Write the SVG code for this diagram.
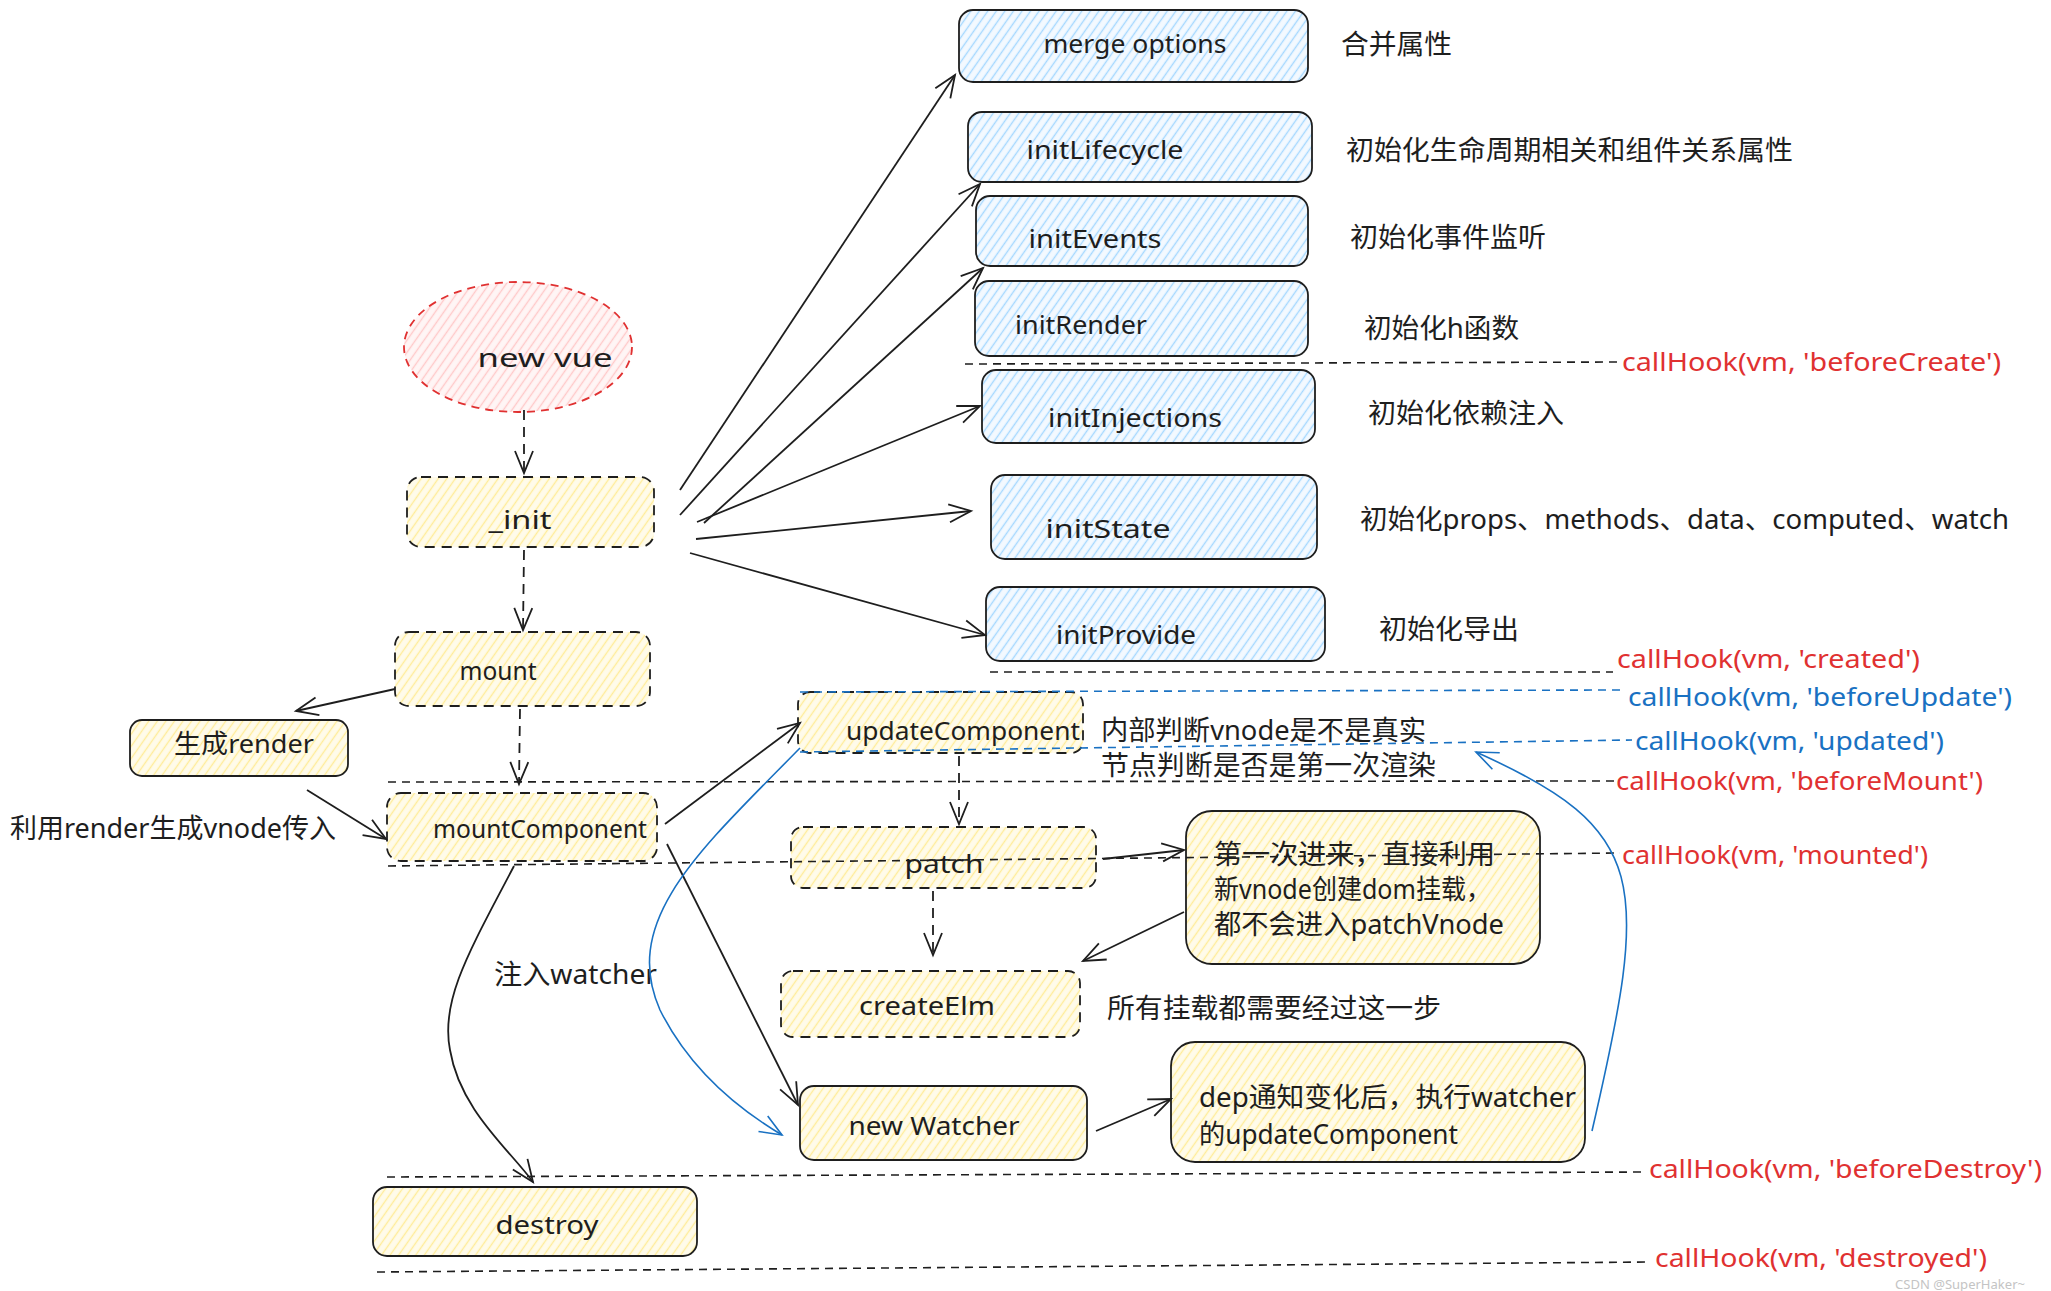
<svg xmlns="http://www.w3.org/2000/svg" width="2051" height="1291" viewBox="0 0 2051 1291">
<style>
text{font-family:"Noto Sans","Noto Sans CJK SC",sans-serif;fill:#1e1e1e;dominant-baseline:central}
.bl{font-size:26px;text-anchor:middle}
.zh{font-size:27px}
.hr{font-size:26px;fill:#e03131}
.hb{font-size:26px;fill:#1971c2}
.box{stroke:#1e1e1e;stroke-width:1.8}
.blue{fill:url(#hBlue)}
.yel{fill:url(#hYel)}
.dsh{stroke-dasharray:10 7}
.con{fill:none;stroke:#1e1e1e;stroke-width:1.8}
.cb{fill:none;stroke:#1971c2;stroke-width:1.6}
.hk{fill:none;stroke:#1e1e1e;stroke-width:1.6;stroke-dasharray:8 6}
.hkb{fill:none;stroke:#1971c2;stroke-width:1.6;stroke-dasharray:8 6}
</style>
<defs>
<pattern id="hBlue" patternUnits="userSpaceOnUse" width="7" height="7" patternTransform="rotate(-55)">
<rect width="7" height="7" fill="#f3f9ff"/><line x1="0" y1="3.5" x2="7" y2="3.5" stroke="#a5d8ff" stroke-width="1.4"/>
</pattern>
<pattern id="hYel" patternUnits="userSpaceOnUse" width="7" height="7" patternTransform="rotate(-55)">
<rect width="7" height="7" fill="#fffbea"/><line x1="0" y1="3.5" x2="7" y2="3.5" stroke="#ffec99" stroke-width="1.4"/>
</pattern>
<pattern id="hRed" patternUnits="userSpaceOnUse" width="7" height="7" patternTransform="rotate(-55)">
<rect width="7" height="7" fill="#fff5f5"/><line x1="0" y1="3.5" x2="7" y2="3.5" stroke="#ffc9c9" stroke-width="1.4"/>
</pattern>
<marker id="ah" markerUnits="userSpaceOnUse" markerWidth="30" markerHeight="30" refX="24" refY="12" orient="auto" viewBox="0 0 30 24">
<path d="M2,3 L24,12 L2,21" fill="none" stroke="#1e1e1e" stroke-width="1.8"/>
</marker>
<marker id="ahb" markerUnits="userSpaceOnUse" markerWidth="30" markerHeight="30" refX="24" refY="12" orient="auto" viewBox="0 0 30 24">
<path d="M2,3 L24,12 L2,21" fill="none" stroke="#1971c2" stroke-width="1.6"/>
</marker>
</defs>
<rect width="2051" height="1291" fill="#ffffff"/>

<g id="newvue">
<ellipse cx="518" cy="347" rx="114" ry="65" fill="url(#hRed)" stroke="#e03131" stroke-width="1.8" stroke-dasharray="8 6"/>
<text class="bl" x="545" y="357" font-size="30" textLength="135" lengthAdjust="spacingAndGlyphs">new vue</text>
</g>
<g id="init">
<rect class="box yel dsh" x="407" y="477" width="247" height="70" rx="14"/>
<text class="bl" x="520" y="519" textLength="63" lengthAdjust="spacingAndGlyphs">_init</text>
</g>
<g id="mergeOptions">
<rect class="box blue" x="959" y="10" width="349" height="72" rx="14"/>
<text class="bl" x="1135" y="43" textLength="183" lengthAdjust="spacingAndGlyphs">merge options</text>
<text class="zh" x="1341" y="43" textLength="111" lengthAdjust="spacingAndGlyphs">合并属性</text>
</g>
<g id="initLifecycle">
<rect class="box blue" x="968" y="112" width="344" height="70" rx="14"/>
<text class="bl" x="1105" y="149" textLength="157" lengthAdjust="spacingAndGlyphs">initLifecycle</text>
<text class="zh" x="1346" y="149" textLength="447" lengthAdjust="spacingAndGlyphs">初始化生命周期相关和组件关系属性</text>
</g>
<g id="initEvents">
<rect class="box blue" x="976" y="196" width="332" height="70" rx="14"/>
<text class="bl" x="1095" y="238" textLength="133" lengthAdjust="spacingAndGlyphs">initEvents</text>
<text class="zh" x="1350" y="236" textLength="196" lengthAdjust="spacingAndGlyphs">初始化事件监听</text>
</g>
<g id="initRender">
<rect class="box blue" x="975" y="281" width="333" height="75" rx="14"/>
<text class="bl" x="1081" y="324" textLength="132" lengthAdjust="spacingAndGlyphs">initRender</text>
<text class="zh" x="1364" y="327" textLength="155" lengthAdjust="spacingAndGlyphs">初始化h函数</text>
</g>
<g id="initInjections">
<rect class="box blue" x="982" y="370" width="333" height="73" rx="14"/>
<text class="bl" x="1135" y="417" textLength="174" lengthAdjust="spacingAndGlyphs">initInjections</text>
<text class="zh" x="1368" y="412" textLength="196" lengthAdjust="spacingAndGlyphs">初始化依赖注入</text>
</g>
<g id="initState">
<rect class="box blue" x="991" y="475" width="326" height="84" rx="14"/>
<text class="bl" x="1108" y="528" textLength="125" lengthAdjust="spacingAndGlyphs">initState</text>
<text class="zh" x="1360" y="518" textLength="649" lengthAdjust="spacingAndGlyphs">初始化props、methods、data、computed、watch</text>
</g>
<g id="initProvide">
<rect class="box blue" x="986" y="587" width="339" height="74" rx="14"/>
<text class="bl" x="1126" y="634" textLength="140" lengthAdjust="spacingAndGlyphs">initProvide</text>
<text class="zh" x="1379" y="628" textLength="140" lengthAdjust="spacingAndGlyphs">初始化导出</text>
</g>
<g id="mount">
<rect class="box yel dsh" x="395" y="632" width="255" height="74" rx="14"/>
<text class="bl" x="498" y="670" textLength="77" lengthAdjust="spacingAndGlyphs">mount</text>
</g>
<g id="genRender">
<rect class="box yel" x="130" y="720" width="218" height="56" rx="12"/>
<text class="bl" x="244" y="743" font-size="27" textLength="140" lengthAdjust="spacingAndGlyphs">生成render</text>
</g>
<g id="mountComponent">
<rect class="box yel dsh" x="387" y="793" width="270" height="68" rx="14"/>
<text class="bl" x="540" y="828" textLength="214" lengthAdjust="spacingAndGlyphs">mountComponent</text>
<text class="zh" x="10" y="827" textLength="326" lengthAdjust="spacingAndGlyphs">利用render生成vnode传入</text>
</g>
<g id="destroy">
<rect class="box yel" x="373" y="1187" width="324" height="69" rx="14"/>
<text class="bl" x="547" y="1224" textLength="103" lengthAdjust="spacingAndGlyphs">destroy</text>
</g>
<g id="updateComponent">
<rect class="box yel dsh" x="798" y="692" width="285" height="61" rx="12"/>
<text class="bl" x="963" y="730" textLength="234" lengthAdjust="spacingAndGlyphs">updateComponent</text>
<text class="zh" x="1101" y="729" textLength="325" lengthAdjust="spacingAndGlyphs">内部判断vnode是不是真实</text>
<text class="zh" x="1101" y="764" textLength="335" lengthAdjust="spacingAndGlyphs">节点判断是否是第一次渲染</text>
</g>
<g id="patch">
<rect class="box yel dsh" x="791" y="827" width="305" height="61" rx="12"/>
<text class="bl" x="944" y="863" textLength="79" lengthAdjust="spacingAndGlyphs">patch</text>
</g>
<g id="firstTime">
<rect class="box yel" x="1186" y="811" width="354" height="153" rx="26"/>
<text class="zh" x="1214" y="853" textLength="281" lengthAdjust="spacingAndGlyphs">第一次进来，直接利用</text>
<text class="zh" x="1214" y="888" textLength="277" lengthAdjust="spacingAndGlyphs">新vnode创建dom挂载，</text>
<text class="zh" x="1214" y="923" textLength="290" lengthAdjust="spacingAndGlyphs">都不会进入patchVnode</text>
</g>
<g id="createElm">
<rect class="box yel dsh" x="781" y="971" width="299" height="66" rx="12"/>
<text class="bl" x="927" y="1005" textLength="136" lengthAdjust="spacingAndGlyphs">createElm</text>
<text class="zh" x="1107" y="1007" textLength="334" lengthAdjust="spacingAndGlyphs">所有挂载都需要经过这一步</text>
</g>
<g id="newWatcher">
<rect class="box yel" x="800" y="1086" width="287" height="74" rx="14"/>
<text class="bl" x="934" y="1125" textLength="171" lengthAdjust="spacingAndGlyphs">new Watcher</text>
</g>
<g id="depNotify">
<rect class="box yel" x="1171" y="1042" width="414" height="120" rx="24"/>
<text class="zh" x="1199" y="1096" textLength="377" lengthAdjust="spacingAndGlyphs">dep通知变化后，执行watcher</text>
<text class="zh" x="1199" y="1133" textLength="259" lengthAdjust="spacingAndGlyphs">的updateComponent</text>
</g>
<g id="labels">
<text class="zh" x="494" y="973" textLength="163" lengthAdjust="spacingAndGlyphs">注入watcher</text>
<text x="1895" y="1284" font-size="12" style="fill:#c4c4c4" textLength="130" lengthAdjust="spacingAndGlyphs">CSDN @SuperHaker~</text>
</g>

<g id="hooks">
<line class="hk" x1="965" y1="364" x2="1620" y2="362"/>
<text class="hr" x="1622" y="361" textLength="379" lengthAdjust="spacingAndGlyphs">callHook(vm, 'beforeCreate')</text>
<line class="hk" x1="990" y1="672" x2="1613" y2="672"/>
<text class="hr" x="1617" y="658" textLength="303" lengthAdjust="spacingAndGlyphs">callHook(vm, 'created')</text>
<line class="hkb" x1="800" y1="692" x2="1622" y2="690"/>
<text class="hb" x="1628" y="696" textLength="384" lengthAdjust="spacingAndGlyphs">callHook(vm, 'beforeUpdate')</text>
<line class="hkb" x1="800" y1="752" x2="1632" y2="740"/>
<text class="hb" x="1635" y="740" textLength="309" lengthAdjust="spacingAndGlyphs">callHook(vm, 'updated')</text>
<line class="hk" x1="388" y1="782" x2="1614" y2="781"/>
<text class="hr" x="1616" y="780" textLength="367" lengthAdjust="spacingAndGlyphs">callHook(vm, 'beforeMount')</text>
<line class="hk" x1="388" y1="866" x2="1620" y2="853"/>
<text class="hr" x="1622" y="854" textLength="306" lengthAdjust="spacingAndGlyphs">callHook(vm, 'mounted')</text>
<line class="hk" x1="387" y1="1177" x2="1646" y2="1172"/>
<text class="hr" x="1649" y="1168" textLength="393" lengthAdjust="spacingAndGlyphs">callHook(vm, 'beforeDestroy')</text>
<line class="hk" x1="377" y1="1272" x2="1651" y2="1262"/>
<text class="hr" x="1655" y="1257" textLength="332" lengthAdjust="spacingAndGlyphs">callHook(vm, 'destroyed')</text>
</g>

<g id="connectors">
<path class="con dsh" d="M524 410 L524 473" marker-end="url(#ah)"/>
<path class="con dsh" d="M524 550 L523 630" marker-end="url(#ah)"/>
<path class="con dsh" d="M520 709 L519 784" marker-end="url(#ah)"/>
<path class="con" d="M395 689 L296 711" marker-end="url(#ah)"/>
<path class="con" d="M307 790 L386 839" marker-end="url(#ah)"/>
<path class="con" d="M680 490 L955 75" marker-end="url(#ah)"/>
<path class="con" d="M680 515 L980 184" marker-end="url(#ah)"/>
<path class="con" d="M704 523 L983 268" marker-end="url(#ah)"/>
<path class="con" d="M697 522 L980 406" marker-end="url(#ah)"/>
<path class="con" d="M696 539 L971 511" marker-end="url(#ah)"/>
<path class="con" d="M690 553 L985 635" marker-end="url(#ah)"/>
<path class="con" d="M665 824 L800 723" marker-end="url(#ah)"/>
<path class="con" d="M667 844 L798 1105" marker-end="url(#ah)"/>
<path class="con" d="M514 866 C470 950 440 1000 450 1050 C460 1110 510 1150 533 1182" marker-end="url(#ah)"/>
<path class="con dsh" d="M959 756 L959 824" marker-end="url(#ah)"/>
<path class="con dsh" d="M933 891 L933 955" marker-end="url(#ah)"/>
<path class="con" d="M1103 859 L1184 850" marker-end="url(#ah)"/>
<path class="con" d="M1184 912 L1083 961" marker-end="url(#ah)"/>
<path class="con" d="M1096 1131 L1171 1099" marker-end="url(#ah)"/>
<path class="cb" d="M1592 1131 C1650 880 1650 830 1476 752" marker-end="url(#ahb)"/>
<path class="cb" d="M800 748 C700 850 620 920 660 1010 C690 1070 740 1110 782 1135" marker-end="url(#ahb)"/>
</g>
</svg>
